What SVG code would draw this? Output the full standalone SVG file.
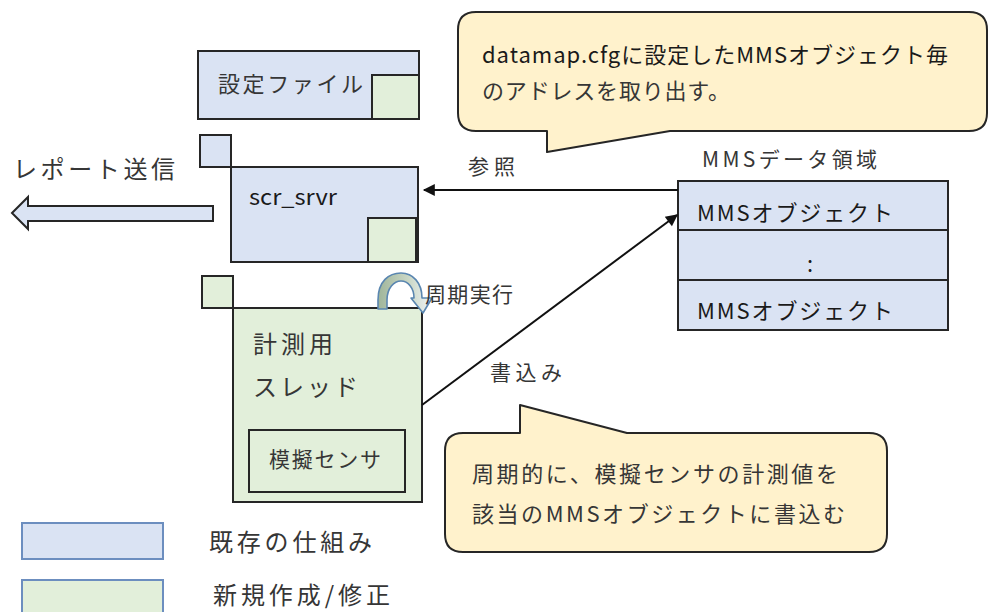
<svg xmlns="http://www.w3.org/2000/svg" width="989" height="612" viewBox="0 0 989 612">
<defs>
<style>
text{font-family:"Noto Sans CJK JP","Noto Sans",sans-serif;fill:#363636;dominant-baseline:central}
.t24{font-size:24px}
.t22{font-size:22px}
.t21{font-size:21px}
.blue{fill:#dae3f3;stroke:#262626;stroke-width:2}
.green{fill:#e2efda;stroke:#262626;stroke-width:2}
.call{fill:#fff2cc;stroke:#262626;stroke-width:2;stroke-linejoin:round}
.leg{stroke:#6c8ebf;stroke-width:2}
.conn{stroke:#111;stroke-width:2;fill:none}
.dk{fill:#1a1a1a}
</style>
<marker id="ah2" viewBox="0 0 10 10" refX="9" refY="5" markerWidth="14" markerHeight="12" markerUnits="userSpaceOnUse" orient="auto">
<path d="M0,0 L10,5 L0,10 Z" fill="#111"/>
</marker>
<linearGradient id="cg" x1="0" y1="0" x2="1" y2="0">
<stop offset="0" stop-color="#9fb59a"/>
<stop offset="0.55" stop-color="#c9d6c4"/>
<stop offset="1" stop-color="#eef3f7"/>
</linearGradient>
</defs>
<rect width="989" height="612" fill="#fff"/>

<g id="config-file">
<rect class="blue" x="198" y="51" width="221" height="68"/>
<rect class="green" x="372" y="75" width="47" height="44"/>
<text class="t22" x="218" y="82" textLength="145" lengthAdjust="spacing">設定ファイル</text>
</g>

<g id="scr-srvr">
<rect class="blue" x="200" y="135" width="31" height="32"/>
<rect class="blue" x="231" y="167" width="187" height="95"/>
<rect class="green" x="368" y="218" width="48" height="44"/>
<text class="t22 dk" x="249" y="195" textLength="88" lengthAdjust="spacingAndGlyphs">scr_srvr</text>
</g>

<g id="report-send">
<path class="blue" d="M12,213 L28,197 L28,206 L213,206 L213,221 L28,221 L28,229 Z"/>
<text class="t24" x="13" y="167" textLength="162" lengthAdjust="spacing">レポート送信</text>
</g>

<g id="measure-thread">
<rect class="green" x="202" y="276" width="31" height="32"/>
<rect class="green" x="233" y="308" width="189" height="194"/>
<text class="t24" x="253" y="342" textLength="80" lengthAdjust="spacing">計測用</text>
<text class="t24" x="253" y="385" textLength="105" lengthAdjust="spacing">スレッド</text>
<g id="sim-sensor">
<rect x="249" y="430" width="156" height="62" fill="none" stroke="#262626" stroke-width="2"/>
<text class="t21" x="269" y="458" textLength="112" lengthAdjust="spacing">模擬センサ</text>
</g>
</g>

<g id="cycle-arrow">
<path d="M378,309 L378,300 C378,281 389,273 401,273 C413,273 422,283 422,298 L432,298 L423,313 L411,298 L414,298 C414,288 408,281 401,281 C394,281 387,288 387,300 L387,309 Z" fill="url(#cg)" stroke="#5a86b0" stroke-width="1.6" stroke-linejoin="round"/>
<text class="t21" x="425" y="293" textLength="88" lengthAdjust="spacing">周期実行</text>
</g>

<g id="mms-area">
<text class="t21" x="702" y="158" textLength="175" lengthAdjust="spacing">MMSデータ領域</text>
<rect x="678" y="181" width="270" height="149" fill="#dae3f3" stroke="#262626" stroke-width="2"/>
<line x1="678" y1="230" x2="948" y2="230" stroke="#262626" stroke-width="2"/>
<line x1="678" y1="280" x2="948" y2="280" stroke="#262626" stroke-width="2"/>
<text class="t22 dk" x="697" y="211" textLength="196" lengthAdjust="spacing">MMSオブジェクト</text>
<text class="t22 dk" x="810" y="262" text-anchor="middle">:</text>
<text class="t22 dk" x="697" y="309" textLength="196" lengthAdjust="spacing">MMSオブジェクト</text>
</g>

<g id="connectors">
<line class="conn" x1="678" y1="190" x2="424" y2="190" marker-end="url(#ah2)"/>
<text class="t21" x="468" y="165" textLength="47" lengthAdjust="spacing">参照</text>
<line class="conn" x1="422" y1="405" x2="677" y2="215" marker-end="url(#ah2)"/>
<text class="t21" x="490" y="371" textLength="72" lengthAdjust="spacing">書込み</text>
</g>

<g id="callout-top">
<path class="call" d="M476,12 H969 Q987,12 987,30 V113 Q987,131 969,131 H670 L547,152 V131 H476 Q458,131 458,113 V30 Q458,12 476,12 Z"/>
<text class="t22 dk" x="482" y="53" textLength="466" lengthAdjust="spacing">datamap.cfgに設定したMMSオブジェクト毎</text>
<text class="t22" x="482" y="89" textLength="248" lengthAdjust="spacing">のアドレスを取り出す。</text>
</g>

<g id="callout-bottom">
<path class="call" d="M463,433 H520 V405 L627,433 H869 Q887,433 887,451 V534 Q887,552 869,552 H463 Q445,552 445,534 V451 Q445,433 463,433 Z"/>
<text class="t22" x="472" y="472" textLength="366" lengthAdjust="spacing">周期的に、模擬センサの計測値を</text>
<text class="t22" x="472" y="512" textLength="373" lengthAdjust="spacing">該当のMMSオブジェクトに書込む</text>
</g>

<g id="legend-existing">
<rect class="leg" x="22" y="523" width="141" height="36" fill="#dae3f3"/>
<text class="t24" x="209" y="540" textLength="163" lengthAdjust="spacing">既存の仕組み</text>
</g>
<g id="legend-new">
<rect class="leg" x="22" y="580" width="141" height="40" fill="#e2efda"/>
<text class="t24" x="213" y="593" textLength="177" lengthAdjust="spacing">新規作成/修正</text>
</g>
</svg>
